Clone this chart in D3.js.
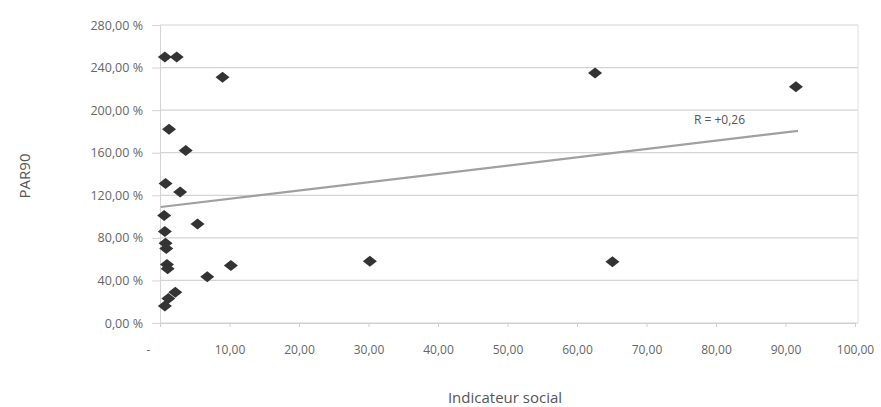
<!DOCTYPE html>
<html>
<head>
<meta charset="utf-8">
<script src="https://cdn.jsdelivr.net/npm/d3@7"></script>
<style>
  body { margin: 0; background: #fff; }
  text { font-family: "Open Sans", sans-serif; }
</style>
</head>
<body>
<div class="scatter"></div>
<script>
// indicateur social (x) and PAR90 in % (y), one entry per point
const socialIndicator = [0.7, 2.4, 9.0, 1.3, 3.7, 0.8, 2.9, 0.6, 5.4, 0.7, 0.8, 0.9, 1.0, 1.1, 10.2, 6.8, 2.2, 1.2, 0.7, 30.2, 62.6, 65.1, 91.5];
const par90 = [250, 250, 231, 182, 162, 131, 123, 101, 93, 86, 75, 70, 55, 51, 54, 43.5, 29, 23, 16, 58, 235, 57.5, 222];
const xTicks = [0, 10, 20, 30, 40, 50, 60, 70, 80, 90, 100];
const yTicks = [0, 40, 80, 120, 160, 200, 240, 280];
// trendline ends
const trendX = [0.1, 91.8];
const trendY = [109, 180.5];
const rLabel = 'R = +0,26';

const width = 881, height = 407;
const margin = { top: 25, right: 23, bottom: 84, left: 160 };

const svg = d3.select('.scatter')
  .append('svg')
  .attr('width', width)
  .attr('height', height);

const x = d3.scaleLinear().domain([0, 100]).range([margin.left, 855]);
const y = d3.scaleLinear().domain([0, 280]).range([height - margin.bottom, margin.top]);

const frac = v => v.toFixed(2).replace('.', ',');

// gridlines
svg.append('g')
  .selectAll('line')
  .data(yTicks)
  .enter()
  .append('line')
  .attr('x1', margin.left)
  .attr('x2', width - margin.right)
  .attr('y1', d => y(d))
  .attr('y2', d => y(d))
  .attr('stroke', '#d4d4d4')
  .attr('stroke-width', 1.2);

// right border
svg.append('line')
  .attr('x1', width - margin.right).attr('x2', width - margin.right)
  .attr('y1', margin.top).attr('y2', y(0))
  .attr('stroke', '#dedede');

// y axis
const yAxis = svg.append('g')
  .attr('transform', `translate(${margin.left},0)`)
  .call(d3.axisLeft(y).tickValues(yTicks).tickSize(8).tickPadding(9).tickFormat(d => frac(d) + ' %'));
yAxis.select('.domain').attr('stroke', '#d4d4d4');
yAxis.selectAll('.tick line').attr('stroke', '#d4d4d4');
yAxis.selectAll('text').attr('fill', '#666').style('font-size', '12.5px');

// x axis
const xAxis = svg.append('g')
  .attr('transform', `translate(0,${y(0)})`)
  .call(d3.axisBottom(x).tickValues(xTicks).tickSize(4).tickPadding(18).tickFormat(d => d === 0 ? '-' : frac(d)));
xAxis.select('.domain').attr('stroke', '#cfcfcf');
xAxis.selectAll('.tick line').attr('stroke', '#cfcfcf');
xAxis.selectAll('text').attr('fill', '#666').style('font-size', '12px')
  .attr('dx', d => d === 0 ? -12 : 0);

// trendline
svg.append('line')
  .attr('x1', x(trendX[0])).attr('y1', y(trendY[0]))
  .attr('x2', x(trendX[1])).attr('y2', y(trendY[1]))
  .attr('stroke', '#a0a0a0')
  .attr('stroke-width', 2.2);

svg.append('text')
  .text(rLabel)
  .attr('x', x(80.5))
  .attr('y', y(187))
  .attr('text-anchor', 'middle')
  .attr('fill', '#555')
  .style('font-size', '12px');

// points
const pts = socialIndicator.map((d, i) => ({ sx: d, p: par90[i] }));
svg.append('g')
  .selectAll('path')
  .data(pts)
  .enter()
  .append('path')
  .attr('d', 'M0,-5.5L7,0L0,5.5L-7,0Z')
  .attr('transform', d => `translate(${x(d.sx)},${y(d.p)})`)
  .attr('fill', '#333');

// axis titles
svg.append('text')
  .text('PAR90')
  .attr('transform', `translate(30,176) rotate(-90)`)
  .attr('text-anchor', 'middle')
  .attr('fill', '#555')
  .style('font-size', '15px');

svg.append('text')
  .text('Indicateur social')
  .attr('x', 505)
  .attr('y', 403)
  .attr('text-anchor', 'middle')
  .attr('fill', '#555')
  .style('font-size', '15px');
</script>
</body>
</html>
